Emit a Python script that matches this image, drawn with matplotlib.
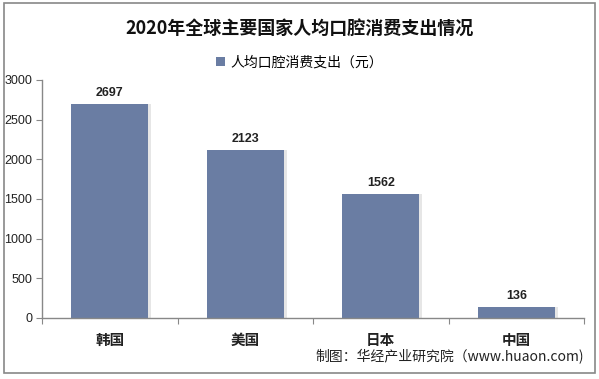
import matplotlib
matplotlib.use("Agg")
import matplotlib.pyplot as plt
from matplotlib.patches import Rectangle

plt.rcParams['font.family'] = ['Noto Sans CJK SC', 'DejaVu Sans']
NUMFONT = ['Liberation Sans', 'DejaVu Sans']

categories = ['韩国', '美国', '日本', '中国']
values = [2697, 2123, 1562, 136]
yticks = [0, 500, 1000, 1500, 2000, 2500, 3000]
title = '2020年全球主要国家人均口腔消费支出情况'
legend_label = '人均口腔消费支出（元）'
source = '制图：华经产业研究院（www.huaon.com)'

bar_color = '#6a7da3'

fig = plt.figure(figsize=(5.99, 3.79), dpi=100)
fig.patches.append(Rectangle((0.006, 0.016), 0.988, 0.976, transform=fig.transFigure,
                             fill=False, edgecolor='#888888', linewidth=1.2))

ax = fig.add_axes([0.0701, 0.161, 0.905, 0.628])
x = list(range(len(categories)))
# shadow
ax.bar([i + 0.02 for i in x], values, width=0.57, color='#e6e6e6', zorder=1)
bars = ax.bar(x, values, width=0.57, color=bar_color, zorder=2, label=legend_label)

for i, v in enumerate(values):
    ax.text(i, v + 60, str(v), ha='center', va='bottom', fontsize=9,
            fontweight='bold', color='#222222', family=NUMFONT)

ax.set_xlim(-0.5, len(categories) - 0.5)
ax.set_ylim(0, 3000)
ax.set_yticks(yticks)
ax.set_yticklabels([str(t) for t in yticks], fontsize=9, color='#222222', family=NUMFONT)
ax.set_xticks([i + 0.5 for i in range(-1, len(categories))], minor=False)
ax.set_xticklabels([])
ax.set_xticks(x, minor=True)
ax.set_xticklabels(categories, minor=True, fontsize=10.5, fontweight='bold', color='#222222')
ax.tick_params(axis='x', which='minor', length=0, pad=10)
ax.tick_params(axis='x', which='major', length=4, color='#888888', direction='out')
ax.tick_params(axis='y', length=4, color='#888888', direction='out', pad=3)

for s in ['top', 'right']:
    ax.spines[s].set_visible(False)
for s in ['left', 'bottom']:
    ax.spines[s].set_color('#888888')
    ax.spines[s].set_linewidth(1)

fig.text(0.5, 0.925, title, ha='center', va='center', fontsize=13,
         fontweight='bold', color='#111111')
leg = fig.legend(handles=[bars], labels=[legend_label], loc='center',
                 bbox_to_anchor=(0.5, 0.835), frameon=False, fontsize=10,
                 handlelength=0.6, handleheight=0.6, handletextpad=0.4)
fig.text(0.975, 0.058, source, ha='right', va='center', fontsize=10, color='#222222')

fig.savefig('out.png', dpi=100)
